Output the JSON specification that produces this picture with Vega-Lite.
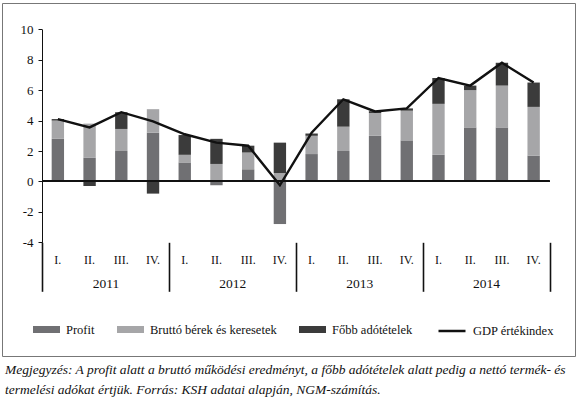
{
  "$schema": "https://vega.github.io/schema/vega-lite/v6.json",
  "width": 573,
  "height": 353,
  "autosize": {"type": "none"},
  "padding": {"left": 2, "top": 3, "right": 5, "bottom": 49},
  "title": {
    "text": [
      "Megjegyzés: A profit alatt a bruttó működési eredményt, a főbb adótételek alatt pedig a nettó termék- és",
      "termelési adókat értjük. Forrás: KSH adatai alapján, NGM-számítás."
    ],
    "orient": "bottom",
    "anchor": "start",
    "frame": "group",
    "offset": 7,
    "dx": 3,
    "font": "'Liberation Serif', 'DejaVu Serif', serif",
    "fontSize": 13.5,
    "fontStyle": "italic",
    "fontWeight": "normal",
    "lineHeight": 19.5,
    "color": "#111"
  },
  "data": {
    "values": [
      {"ev": "2011", "negyedev": "I.", "Profit": 2.8, "Bruttó bérek és keresetek": 1.2, "Főbb adótételek": 0.1, "GDP értékindex": 4.1},
      {"ev": "2011", "negyedev": "II.", "Profit": 1.55, "Bruttó bérek és keresetek": 2.25, "Főbb adótételek": -0.3, "GDP értékindex": 3.55},
      {"ev": "2011", "negyedev": "III.", "Profit": 2.0, "Bruttó bérek és keresetek": 1.45, "Főbb adótételek": 1.1, "GDP értékindex": 4.55},
      {"ev": "2011", "negyedev": "IV.", "Profit": 3.2, "Bruttó bérek és keresetek": 1.55, "Főbb adótételek": -0.8, "GDP értékindex": 3.95},
      {"ev": "2012", "negyedev": "I.", "Profit": 1.25, "Bruttó bérek és keresetek": 0.5, "Főbb adótételek": 1.3, "GDP értékindex": 3.1},
      {"ev": "2012", "negyedev": "II.", "Profit": -0.25, "Bruttó bérek és keresetek": 1.15, "Főbb adótételek": 1.65, "GDP értékindex": 2.55},
      {"ev": "2012", "negyedev": "III.", "Profit": 0.8, "Bruttó bérek és keresetek": 1.1, "Főbb adótételek": 0.45, "GDP értékindex": 2.35},
      {"ev": "2012", "negyedev": "IV.", "Profit": -2.8, "Bruttó bérek és keresetek": 0.55, "Főbb adótételek": 2.0, "GDP értékindex": -0.25},
      {"ev": "2013", "negyedev": "I.", "Profit": 1.8, "Bruttó bérek és keresetek": 1.2, "Főbb adótételek": 0.15, "GDP értékindex": 3.2},
      {"ev": "2013", "negyedev": "II.", "Profit": 2.0, "Bruttó bérek és keresetek": 1.6, "Főbb adótételek": 1.8, "GDP értékindex": 5.4},
      {"ev": "2013", "negyedev": "III.", "Profit": 3.0, "Bruttó bérek és keresetek": 1.5, "Főbb adótételek": 0.12, "GDP értékindex": 4.6},
      {"ev": "2013", "negyedev": "IV.", "Profit": 2.7, "Bruttó bérek és keresetek": 1.95, "Főbb adótételek": 0.15, "GDP értékindex": 4.8},
      {"ev": "2014", "negyedev": "I.", "Profit": 1.75, "Bruttó bérek és keresetek": 3.35, "Főbb adótételek": 1.7, "GDP értékindex": 6.8},
      {"ev": "2014", "negyedev": "II.", "Profit": 3.55, "Bruttó bérek és keresetek": 2.45, "Főbb adótételek": 0.3, "GDP értékindex": 6.3},
      {"ev": "2014", "negyedev": "III.", "Profit": 3.55, "Bruttó bérek és keresetek": 2.75, "Főbb adótételek": 1.5, "GDP értékindex": 7.8},
      {"ev": "2014", "negyedev": "IV.", "Profit": 1.7, "Bruttó bérek és keresetek": 3.2, "Főbb adótételek": 1.6, "GDP értékindex": 6.5}
    ]
  },
  "transform": [
    {"calculate": "datum.ev + ' ' + datum.negyedev", "as": "idoszak"}
  ],
  "layer": [
    {
      "transform": [
        {"fold": ["Profit", "Bruttó bérek és keresetek", "Főbb adótételek"], "as": ["tetel", "ertek"]},
        {"calculate": "indexof(['Profit', 'Bruttó bérek és keresetek', 'Főbb adótételek'], datum.tetel)", "as": "sorrend"}
      ],
      "mark": {"type": "bar", "width": {"band": 0.39}},
      "encoding": {
        "x": {
          "field": "idoszak",
          "type": "nominal",
          "sort": null,
          "scale": {"range": [40, 547.5], "paddingInner": 0, "paddingOuter": 0},
          "axis": {
            "title": null,
            "orient": "bottom",
            "offset": -113.7,
            "domain": false,
            "ticks": false,
            "labelAngle": 0,
            "labelExpr": "split(datum.label, ' ')[1]",
            "labelBaseline": "middle",
            "labelPadding": 17,
            "labelFontSize": 12
          }
        },
        "y": {
          "field": "ertek",
          "type": "quantitative",
          "stack": "zero",
          "title": null,
          "scale": {"domain": [-4, 10], "range": [239.3, 26.3], "nice": false},
          "axis": {
            "title": null,
            "orient": "left",
            "offset": -40,
            "values": [-4, -2, 0, 2, 4, 6, 8, 10],
            "labelExpr": "datum.value + ''",
            "grid": false,
            "tickSize": 4,
            "labelPadding": 5,
            "labelFontSize": 13
          }
        },
        "color": {
          "field": "tetel",
          "type": "nominal",
          "scale": {
            "domain": ["Profit", "Bruttó bérek és keresetek", "Főbb adótételek"],
            "range": ["#707073", "#a6a6a8", "#3b3b3b"]
          },
          "legend": {
            "title": null,
            "orient": "none",
            "legendX": 31,
            "legendY": 313,
            "direction": "horizontal",
            "padding": 0,
            "symbolType": "M-1,-0.26H1V0.26H-1Z",
            "symbolSize": 729,
            "symbolStrokeWidth": 0,
            "symbolOpacity": 1,
            "labelFontSize": 12.5,
            "labelOffset": 6,
            "columnPadding": 22
          }
        },
        "order": {"field": "sorrend", "type": "quantitative"}
      }
    },
    {
      "mark": {"type": "rule", "color": "#111", "strokeWidth": 1.2},
      "encoding": {
        "x": {"datum": 0, "type": "quantitative", "scale": {"domain": [0, 1], "range": [40, 547.5]}, "axis": null},
        "x2": {"datum": 1},
        "y": {"datum": 0, "type": "quantitative", "title": null}
      }
    },
    {
      "mark": {"type": "line", "strokeWidth": 2.4},
      "encoding": {
        "x": {
          "field": "idoszak",
          "type": "nominal",
          "sort": null,
          "scale": {"range": [40, 547.5], "paddingInner": 0, "paddingOuter": 0},
          "axis": null
        },
        "y": {"field": "GDP értékindex", "type": "quantitative", "title": null},
        "stroke": {
          "datum": "GDP értékindex",
          "scale": {"range": ["#111111"]},
          "legend": {
            "title": null,
            "orient": "none",
            "legendX": 435,
            "legendY": 313,
            "padding": 0,
            "symbolType": "stroke",
            "symbolSize": 729,
            "symbolStrokeWidth": 2.5,
            "labelFontSize": 12.5,
            "labelOffset": 6
          }
        }
      }
    },
    {
      "mark": {"type": "point", "opacity": 0},
      "encoding": {
        "x": {
          "field": "ev",
          "type": "nominal",
          "sort": null,
          "scale": {"range": [40, 547.5], "paddingInner": 0, "paddingOuter": 0},
          "axis": {
            "title": null,
            "orient": "bottom",
            "offset": -113.7,
            "domain": false,
            "tickBand": "extent",
            "tickSize": 49,
            "tickWidth": 1.6,
            "tickColor": "#111",
            "labelAngle": 0,
            "labelBaseline": "middle",
            "labelPadding": -8,
            "labelFontSize": 13.5
          }
        },
        "y": {"datum": 0, "type": "quantitative", "title": null}
      }
    }
  ],
  "resolve": {"scale": {"x": "independent"}},
  "config": {
    "font": "'Liberation Serif', 'DejaVu Serif', serif",
    "view": {"stroke": "#777777", "strokeWidth": 1},
    "axis": {
      "labelFont": "'Liberation Serif', 'DejaVu Serif', serif",
      "labelColor": "#111",
      "domainColor": "#111",
      "tickColor": "#111"
    },
    "legend": {
      "labelFont": "'Liberation Serif', 'DejaVu Serif', serif",
      "labelColor": "#111",
      "labelLimit": 0
    }
  }
}
